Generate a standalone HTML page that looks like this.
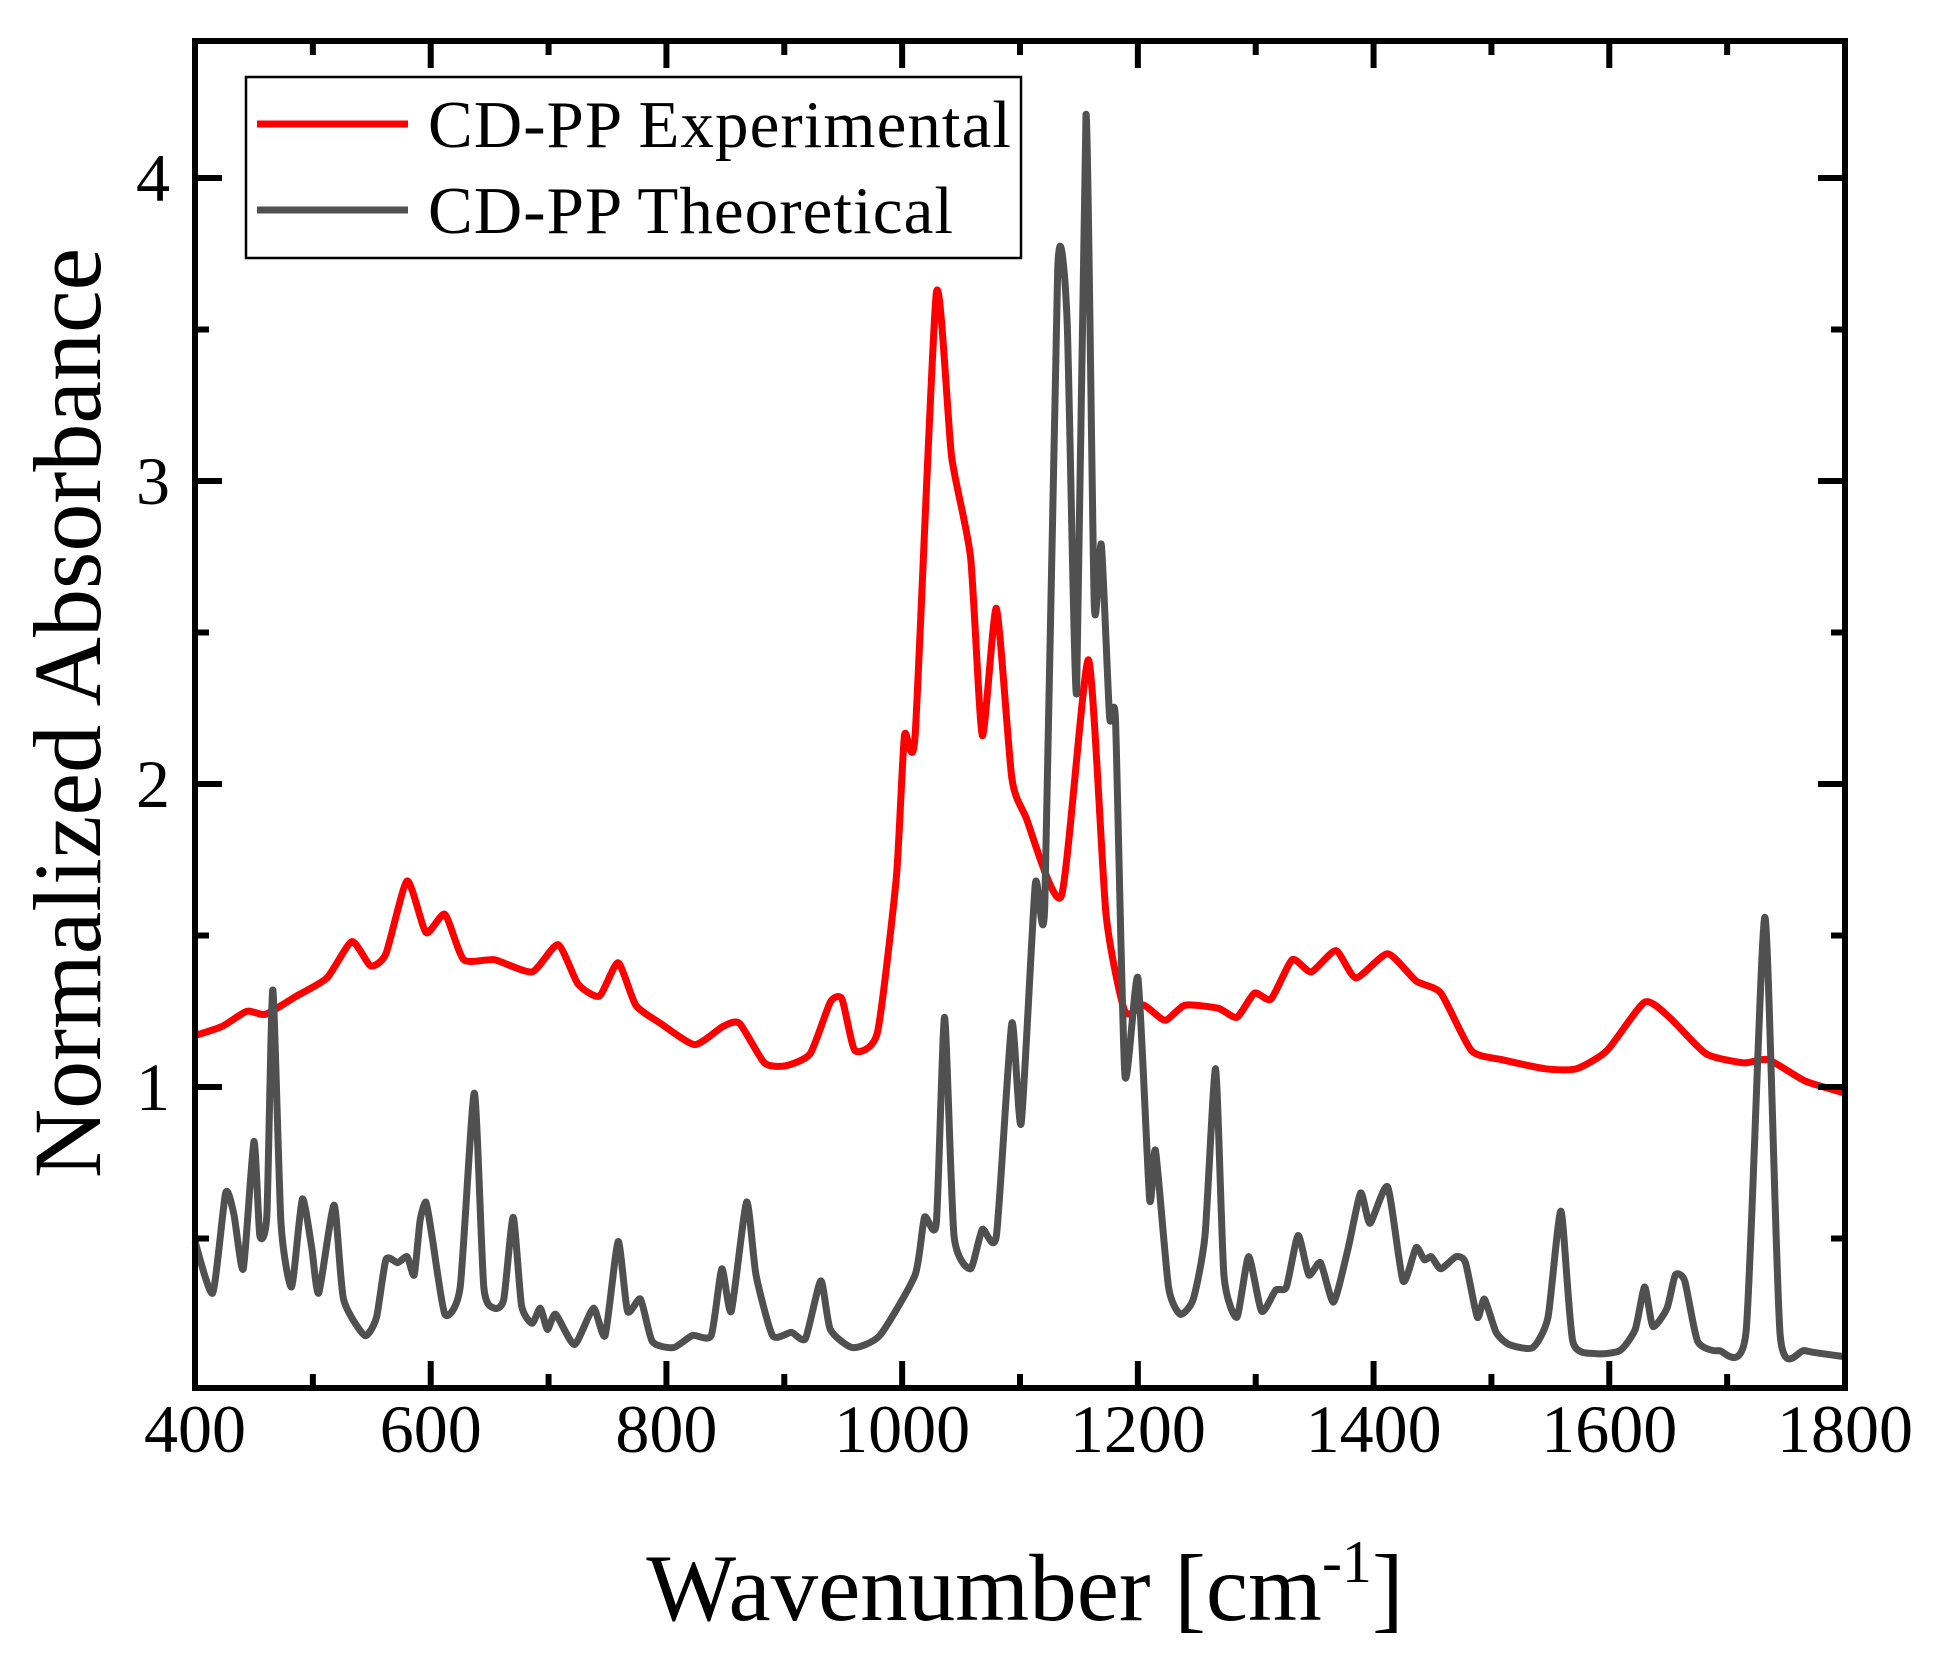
<!DOCTYPE html>
<html><head><meta charset="utf-8"><style>
html,body{margin:0;padding:0;background:#fff;}
svg{display:block;font-family:"Liberation Serif",serif;}
</style></head><body>
<svg id="chart" width="1939" height="1666" viewBox="0 0 1939 1666">
<g id="marks"></g>
<g id="axes"></g>
<g>
<rect x="246" y="77" width="775" height="181" fill="#fff" stroke="#000" stroke-width="2.5"/>
<line x1="257" y1="124" x2="408" y2="124" stroke="#ff0000" stroke-width="7"/>
<text x="428" y="147" font-size="67" textLength="583">CD-PP Experimental</text>
<line x1="257" y1="210" x2="408" y2="210" stroke="#505050" stroke-width="7"/>
<text x="428" y="233" font-size="67" textLength="525">CD-PP Theoretical</text>
</g>
<text x="1025" y="1620" font-size="95" text-anchor="middle">Wavenumber [cm<tspan font-size="60" dy="-38">-1</tspan><tspan dy="38">]</tspan></text>
<text transform="translate(100,713) rotate(-90)" font-size="96" text-anchor="middle">Normalized Absorbance</text>
</svg>
<script>
const expX=[400,423,444,460,486,512,533,549,562,580,596,612,628,654,686,708,725,743,759,774,795,824,848,862,883,901,922,939,949,960,979,995,1002,1011,1029,1042,1058,1068,1080,1093,1105,1135,1158,1173,1189,1205,1223,1240,1268,1284,1299,1313,1331,1347,1368,1385,1412,1436,1457,1483,1509,1546,1572,1598,1630,1651,1682,1714,1735,1766,1800];
const expY=[1.17,1.20,1.25,1.24,1.30,1.36,1.48,1.40,1.44,1.68,1.51,1.57,1.42,1.42,1.38,1.47,1.34,1.30,1.41,1.27,1.21,1.14,1.20,1.21,1.08,1.07,1.11,1.28,1.29,1.12,1.18,1.69,2.16,2.16,3.62,3.08,2.75,2.16,2.58,2.02,1.89,1.63,2.41,1.57,1.25,1.27,1.22,1.27,1.26,1.23,1.31,1.29,1.42,1.38,1.45,1.36,1.44,1.35,1.31,1.12,1.09,1.06,1.06,1.12,1.28,1.23,1.11,1.08,1.09,1.02,0.98];
const thX=[400,415,426,433,441,450,455,461,466,473,482,491,499,505,518,526,544,554,562,572,580,586,591,596,601,612,625,637,645,654,662,670,677,686,693,699,706,722,738,748,759,767,778,788,806,822,838,847,855,868,876,890,906,918,931,939,958,981,1011,1019,1029,1036,1044,1058,1068,1080,1093,1101,1113,1121,1132,1140,1148,1156,1163,1169,1176,1181,1189,1200,1210,1215,1226,1236,1247,1257,1266,1273,1284,1294,1305,1317,1326,1336,1345,1355,1366,1378,1389,1397,1412,1425,1436,1443,1449,1457,1470,1478,1488,1494,1504,1515,1535,1548,1559,1569,1588,1609,1622,1630,1637,1649,1656,1664,1675,1693,1716,1732,1745,1766,1800];
const thY=[0.49,0.32,0.65,0.58,0.40,0.82,0.51,0.58,1.32,0.55,0.34,0.63,0.47,0.32,0.61,0.30,0.18,0.24,0.43,0.42,0.44,0.38,0.56,0.62,0.51,0.25,0.34,0.98,0.34,0.27,0.30,0.57,0.28,0.22,0.27,0.20,0.25,0.15,0.27,0.18,0.49,0.26,0.30,0.16,0.14,0.18,0.18,0.40,0.26,0.62,0.38,0.18,0.19,0.17,0.36,0.20,0.14,0.18,0.38,0.57,0.55,1.23,0.51,0.40,0.53,0.51,1.21,0.88,1.67,1.60,3.70,3.53,2.30,4.21,2.59,2.79,2.22,2.21,1.04,1.36,0.63,0.79,0.34,0.25,0.30,0.51,1.06,0.38,0.24,0.44,0.26,0.33,0.34,0.51,0.38,0.42,0.29,0.46,0.65,0.55,0.67,0.36,0.47,0.43,0.44,0.40,0.44,0.42,0.24,0.30,0.19,0.15,0.14,0.24,0.59,0.16,0.12,0.13,0.20,0.34,0.21,0.27,0.38,0.36,0.16,0.13,0.19,1.56,0.18,0.13,0.11];
const xTicks=[400,600,800,1000,1200,1400,1600,1800];
const yTicks=[1,2,3,4];
const NS='http://www.w3.org/2000/svg';
const L=195,R=1845,T=41,B=1388;
const xs=v=>L+(v-400)/1400*(R-L);
const ys=v=>1087-(v-1)*303;
function mk(tag,attrs,parent){const e=document.createElementNS(NS,tag);for(const k in attrs)e.setAttribute(k,attrs[k]);parent.appendChild(e);return e;}
const marks=document.getElementById('marks'),axes=document.getElementById('axes');
function path(X,Y){
  const P=X.map((x,i)=>[xs(x),ys(Y[i])]);
  let d='M'+P[0][0].toFixed(1)+','+P[0][1].toFixed(1);
  for(let i=0;i<P.length-1;i++){
    const p0=P[Math.max(0,i-1)],p1=P[i],p2=P[i+1],p3=P[Math.min(P.length-1,i+2)];
    const t=0.1;
    let c1x=p1[0]+(p2[0]-p0[0])*t,c1y=p1[1]+(p2[1]-p0[1])*t;
    let c2x=p2[0]-(p3[0]-p1[0])*t,c2y=p2[1]-(p3[1]-p1[1])*t;
    c1x=Math.min(Math.max(c1x,p1[0]),p2[0]);c2x=Math.min(Math.max(c2x,p1[0]),p2[0]);
    d+='C'+c1x.toFixed(1)+','+c1y.toFixed(1)+' '+c2x.toFixed(1)+','+c2y.toFixed(1)+' '+p2[0].toFixed(1)+','+p2[1].toFixed(1);
  }
  return d;
}
const pe=mk('path',{d:path(expX,expY),fill:'none',stroke:'#ff0000','stroke-width':7,'stroke-linejoin':'round'},marks);


const pt=mk('path',{d:path(thX,thY),fill:'none',stroke:'#505050','stroke-width':7,'stroke-linejoin':'round'},marks);


const fr=mk('rect',{x:L,y:T,width:R-L,height:B-T,fill:'none',stroke:'#000','stroke-width':6},axes);


for(let v=400;v<=1800;v+=100){const x=xs(v);const len=(v%200===0)?27:14;
mk('line',{x1:x,y1:B,x2:x,y2:B-len,stroke:'#000','stroke-width':6},axes);
mk('line',{x1:x,y1:T,x2:x,y2:T+len,stroke:'#000','stroke-width':6},axes);}
for(let v=0.5;v<=4.01;v+=0.5){const y=ys(v);const len=(Math.abs(v-Math.round(v))<0.01)?27:14;
mk('line',{x1:L,y1:y,x2:L+len,y2:y,stroke:'#000','stroke-width':6},axes);
mk('line',{x1:R,y1:y,x2:R-len,y2:y,stroke:'#000','stroke-width':6},axes);}
xTicks.forEach(v=>{const t=mk('text',{x:xs(v),y:1452,'font-size':68,'text-anchor':'middle'},axes);t.textContent=v;

});
yTicks.forEach(v=>{const t=mk('text',{x:170,y:ys(v)+23,'font-size':68,'text-anchor':'end'},axes);t.textContent=v;

});
</script>
</body></html>
